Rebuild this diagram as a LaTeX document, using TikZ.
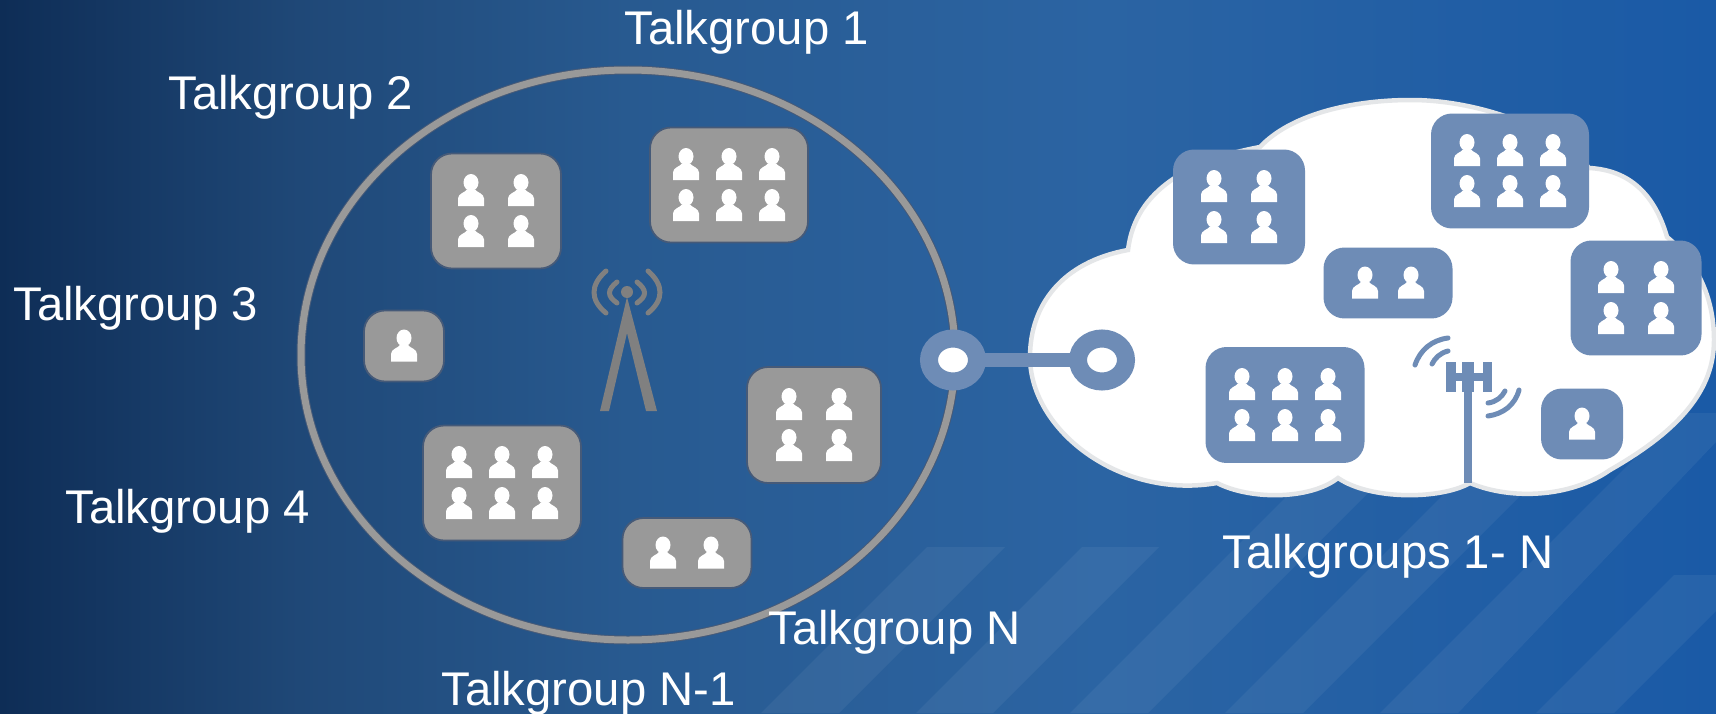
\documentclass[tikz,border=0pt]{standalone}
\usepackage{fontspec}
\setmainfont{Liberation Sans}
\usetikzlibrary{shapes.geometric}
\definecolor{tggray}{RGB}{153, 153, 153}
\definecolor{tgedge}{RGB}{70, 90, 120}
\definecolor{tgblue}{RGB}{110, 140, 182}
\definecolor{tgtower}{RGB}{128, 128, 128}
\definecolor{tgrim}{RGB}{228, 230, 232}
\pgfdeclarehorizontalshading{tgback}{100bp}{
  rgb(0bp)=(0.055,0.176,0.337);
  rgb(25bp)=(0.055,0.176,0.337);
  rgb(33.7bp)=(0.122,0.282,0.467);
  rgb(43.3bp)=(0.157,0.353,0.565);
  rgb(57bp)=(0.169,0.392,0.639);
  rgb(75bp)=(0.102,0.353,0.651);
  rgb(100bp)=(0.102,0.353,0.651)}
\tikzset{
  graybox/.style={draw=tgedge, line width=1pt, fill=tggray, rounded corners=0.42cm, inner sep=0pt, outer sep=0pt},
  bluebox/.style={fill=tgblue, rounded corners=0.42cm, inner sep=0pt, outer sep=0pt},
  tglabel/.style={text=white, anchor=base west, inner sep=0pt, font=\fontsize{26.9}{30}\selectfont},
  stripe/.style={fill=white, fill opacity=0.055},
  port/.style={ellipse, draw=tgblue, fill=white, line width=0.36cm, inner sep=0pt, outer sep=0pt},
  wave/.style={line width=0.1cm, line cap=round},
  pics/tgperson/.style={code={
    \fill[white] (0,-8) ellipse (7.5 and 8.5);
    \fill[white] (-13,15.5) -- (-13,8) .. controls (-13,3) and (-6,2) .. (-4,-1) -- (4,-1)
      .. controls (6,2) and (13,3) .. (13,8) -- (13,15.5) -- cycle;
  }}
}
\newcommand{\tgpeople}[4]{% centre x, centre y, list of column offsets, list of row offsets
  \foreach \dx in {#3} \foreach \dy in {#4} \pic at ({#1+\dx},{#2+\dy}) {tgperson};}
\begin{document}
\begin{tikzpicture}[x=0.02cm, y=-0.02cm]
  \useasboundingbox (0,0) rectangle (1716,713);

  % Background
  \shade[shading=tgback] (0,0) rectangle (1716,713);
  \fill[stripe] (927,547) -- (1005,547) -- (839,713) -- (761,713) -- cycle;
  \fill[stripe] (1082,547) -- (1159,547) -- (993,713) -- (916,713) -- cycle;
  \fill[stripe] (1370,413) -- (1448,413) -- (1148,713) -- (1070,713) -- cycle;
  \fill[stripe] (1525,413) -- (1603,413) -- (1303,713) -- (1225,713) -- cycle;
  \fill[stripe] (1680,413) -- (1716,413) -- (1716,442) -- (1458,713) -- (1380,713) -- cycle;
  \fill[stripe] (1674,575) -- (1716,575) -- (1716,611) -- (1614,713) -- (1536,713) -- cycle;

  % Circle
  \draw[tgedge, line width=0.18cm] (628,355) ellipse (327 and 285);
  \draw[tggray, line width=0.14cm] (628,355) ellipse (327 and 285);

  % Tower in the circle
  \fill[tgtower] (627,297) -- (657,411) -- (646,411) -- (627,333) -- (609,411) -- (600,411) -- cycle;
  \fill[tgtower] (627,292) circle (6);
  \draw[tgtower, wave] (606,271) .. controls (590,285) and (590,300) .. (606,313);
  \draw[tgtower, wave] (617,282) .. controls (607,290) and (607,296) .. (617,303);
  \draw[tgtower, wave] (648,271) .. controls (664,285) and (664,300) .. (648,313);
  \draw[tgtower, wave] (637,282) .. controls (647,290) and (647,296) .. (637,303);

  % Groups in the circle
  \node[graybox, minimum width=2.6cm, minimum height=2.3cm] (gray2) at (496,211) {};
  \tgpeople{496}{211}{-25,25}{-20.5,20.5}
  \node[graybox, minimum width=3.16cm, minimum height=2.3cm] (gray1) at (729,185) {};
  \tgpeople{729}{185}{-43,0,43}{-20.5,20.5}
  \node[graybox, minimum width=1.6cm, minimum height=1.42cm] (gray3) at (404,346) {};
  \tgpeople{404}{346}{0}{0}
  \node[graybox, minimum width=2.68cm, minimum height=2.32cm] (grayN2) at (814,425) {};
  \tgpeople{814}{425}{-25,25}{-20.5,20.5}
  \node[graybox, minimum width=3.16cm, minimum height=2.3cm] (gray4) at (502,483) {};
  \tgpeople{502}{483}{-43,0,43}{-20.5,20.5}
  \node[graybox, minimum width=2.58cm, minimum height=1.4cm] (grayN) at (687,553) {};
  \tgpeople{687}{553}{-24,24}{0}

  % Cloud
  \draw[tgrim, fill=white, line width=0.09cm]
    (1128,250) .. controls (1062,262) and (1030,305) .. (1030,357)
    .. controls (1030,430) and (1120,500) .. (1217,483)
    .. controls (1250,500) and (1310,500) .. (1338,478)
    .. controls (1370,500) and (1440,500) .. (1470,483)
    .. controls (1510,500) and (1570,498) .. (1610,470)
    .. controls (1680,430) and (1714,390) .. (1714,340)
    .. controls (1714,295) and (1695,260) .. (1667,237)
    .. controls (1655,195) and (1630,170) .. (1589,168)
    .. controls (1560,130) and (1480,100) .. (1411,100)
    .. controls (1350,100) and (1290,115) .. (1260,147)
    .. controls (1190,160) and (1135,190) .. (1128,250) -- cycle;

  % Connector between circle and cloud
  \node[port, minimum width=0.96cm, minimum height=0.86cm] (portleft) at (953,360) {};
  \node[port, minimum width=0.96cm, minimum height=0.86cm] (portright) at (1102,360) {};
  \draw[tgblue, line width=0.28cm] (portleft) -- (portright);

  % Tower in the cloud
  \fill[tgblue] (1464,390) rectangle (1472,483);
  \fill[tgblue] (1446,362) rectangle (1456,392);
  \fill[tgblue] (1462,362) rectangle (1474,392);
  \fill[tgblue] (1483,362) rectangle (1492,392);
  \fill[tgblue] (1446,373) rectangle (1492,381);
  \draw[tgblue, wave] (1415,365) .. controls (1420,350) and (1432,340) .. (1448,338);
  \draw[tgblue, wave] (1432,364) .. controls (1435,358) and (1440,353) .. (1448,351);
  \draw[tgblue, wave] (1519,390) .. controls (1515,405) and (1503,414) .. (1488,416);
  \draw[tgblue, wave] (1505,391) .. controls (1502,397) and (1496,402) .. (1488,403);

  % Groups in the cloud
  \node[bluebox, minimum width=2.64cm, minimum height=2.3cm] (blue2) at (1239,207) {};
  \tgpeople{1239}{207}{-25,25}{-20.5,20.5}
  \node[bluebox, minimum width=3.16cm, minimum height=2.3cm] (blue1) at (1510,171) {};
  \tgpeople{1510}{171}{-43,0,43}{-20.5,20.5}
  \node[bluebox, minimum width=2.58cm, minimum height=1.42cm] (blue5) at (1388,283) {};
  \tgpeople{1388}{283}{-23,23}{0}
  \node[bluebox, minimum width=2.62cm, minimum height=2.3cm] (blue3) at (1636,298) {};
  \tgpeople{1636}{298}{-25,25}{-20.5,20.5}
  \node[bluebox, minimum width=3.18cm, minimum height=2.32cm] (blue4) at (1285,405) {};
  \tgpeople{1285}{405}{-43,0,43}{-20.5,20.5}
  \node[bluebox, minimum width=1.64cm, minimum height=1.42cm] (blue6) at (1582,424) {};
  \tgpeople{1582}{424}{0}{0}

  % Labels
  \node[tglabel] (tg1) at (624,45) {Talkgroup 1};
  \node[tglabel] (tg2) at (168,110) {Talkgroup 2};
  \node[tglabel] (tg3) at (13,320) {Talkgroup 3};
  \node[tglabel] (tg4) at (65,523) {Talkgroup 4};
  \node[tglabel] (tgN) at (768,644) {Talkgroup N};
  \node[tglabel] (tgN1) at (441,705) {Talkgroup N-1};
  \node[tglabel] (tgall) at (1222,568) {Talkgroups 1- N};
\end{tikzpicture}
\end{document}
